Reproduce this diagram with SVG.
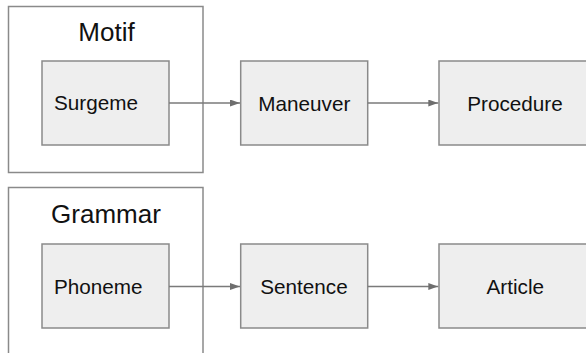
<svg xmlns="http://www.w3.org/2000/svg" width="586" height="353" viewBox="0 0 586 353">
<style>
.frame{fill:#ffffff;stroke:#8a8a8a;stroke-width:1.5}
.box{fill:#eeeeee;stroke:#8a8a8a;stroke-width:1.5}
.title{font-family:"Liberation Sans",Arial,sans-serif;font-size:26px;fill:#111;text-anchor:middle}
.lbl{font-family:"Liberation Sans",Arial,sans-serif;font-size:20.7px;fill:#111}
.mid{text-anchor:middle}
.edge{stroke:#7a7a7a;stroke-width:1.3;fill:none}
</style>
<defs>
<marker id="ah" viewBox="0 0 10 7" refX="10" refY="3.5" markerWidth="10" markerHeight="7" markerUnits="userSpaceOnUse" orient="auto">
<path d="M0,0 L10,3.5 L0,7 Z" fill="#6e6e6e"/>
</marker>
</defs>
<g id="motif">
<rect class="frame" x="8.5" y="6.5" width="194.5" height="166"/>
<text class="title" x="106.5" y="40.5">Motif</text>
</g>
<g id="grammar">
<rect class="frame" x="8.5" y="187.5" width="194.5" height="180"/>
<text class="title" x="106" y="223">Grammar</text>
</g>
<g id="surgeme">
<rect class="box" x="42" y="61" width="127" height="84"/>
<text class="lbl" x="54" y="110">Surgeme</text>
</g>
<g id="maneuver">
<rect class="box" x="240.7" y="61" width="127" height="84"/>
<text class="lbl mid" x="304.3" y="110.5">Maneuver</text>
</g>
<g id="procedure">
<rect class="box" x="439" y="61" width="155" height="84"/>
<text class="lbl mid" x="515" y="110.5">Procedure</text>
</g>
<g id="phoneme">
<rect class="box" x="42" y="244" width="127" height="84"/>
<text class="lbl" x="54" y="294">Phoneme</text>
</g>
<g id="sentence">
<rect class="box" x="240.7" y="244" width="127" height="84"/>
<text class="lbl mid" x="304" y="294">Sentence</text>
</g>
<g id="article">
<rect class="box" x="439" y="244" width="155" height="84"/>
<text class="lbl mid" x="515.3" y="294">Article</text>
</g>
<g id="connectors">
<path class="edge" d="M169,103 L240,103" marker-end="url(#ah)"/>
<path class="edge" d="M367.7,103 L438.3,103" marker-end="url(#ah)"/>
<path class="edge" d="M169,286.5 L240,286.5" marker-end="url(#ah)"/>
<path class="edge" d="M367.7,286.5 L438.3,286.5" marker-end="url(#ah)"/>
</g>
</svg>
